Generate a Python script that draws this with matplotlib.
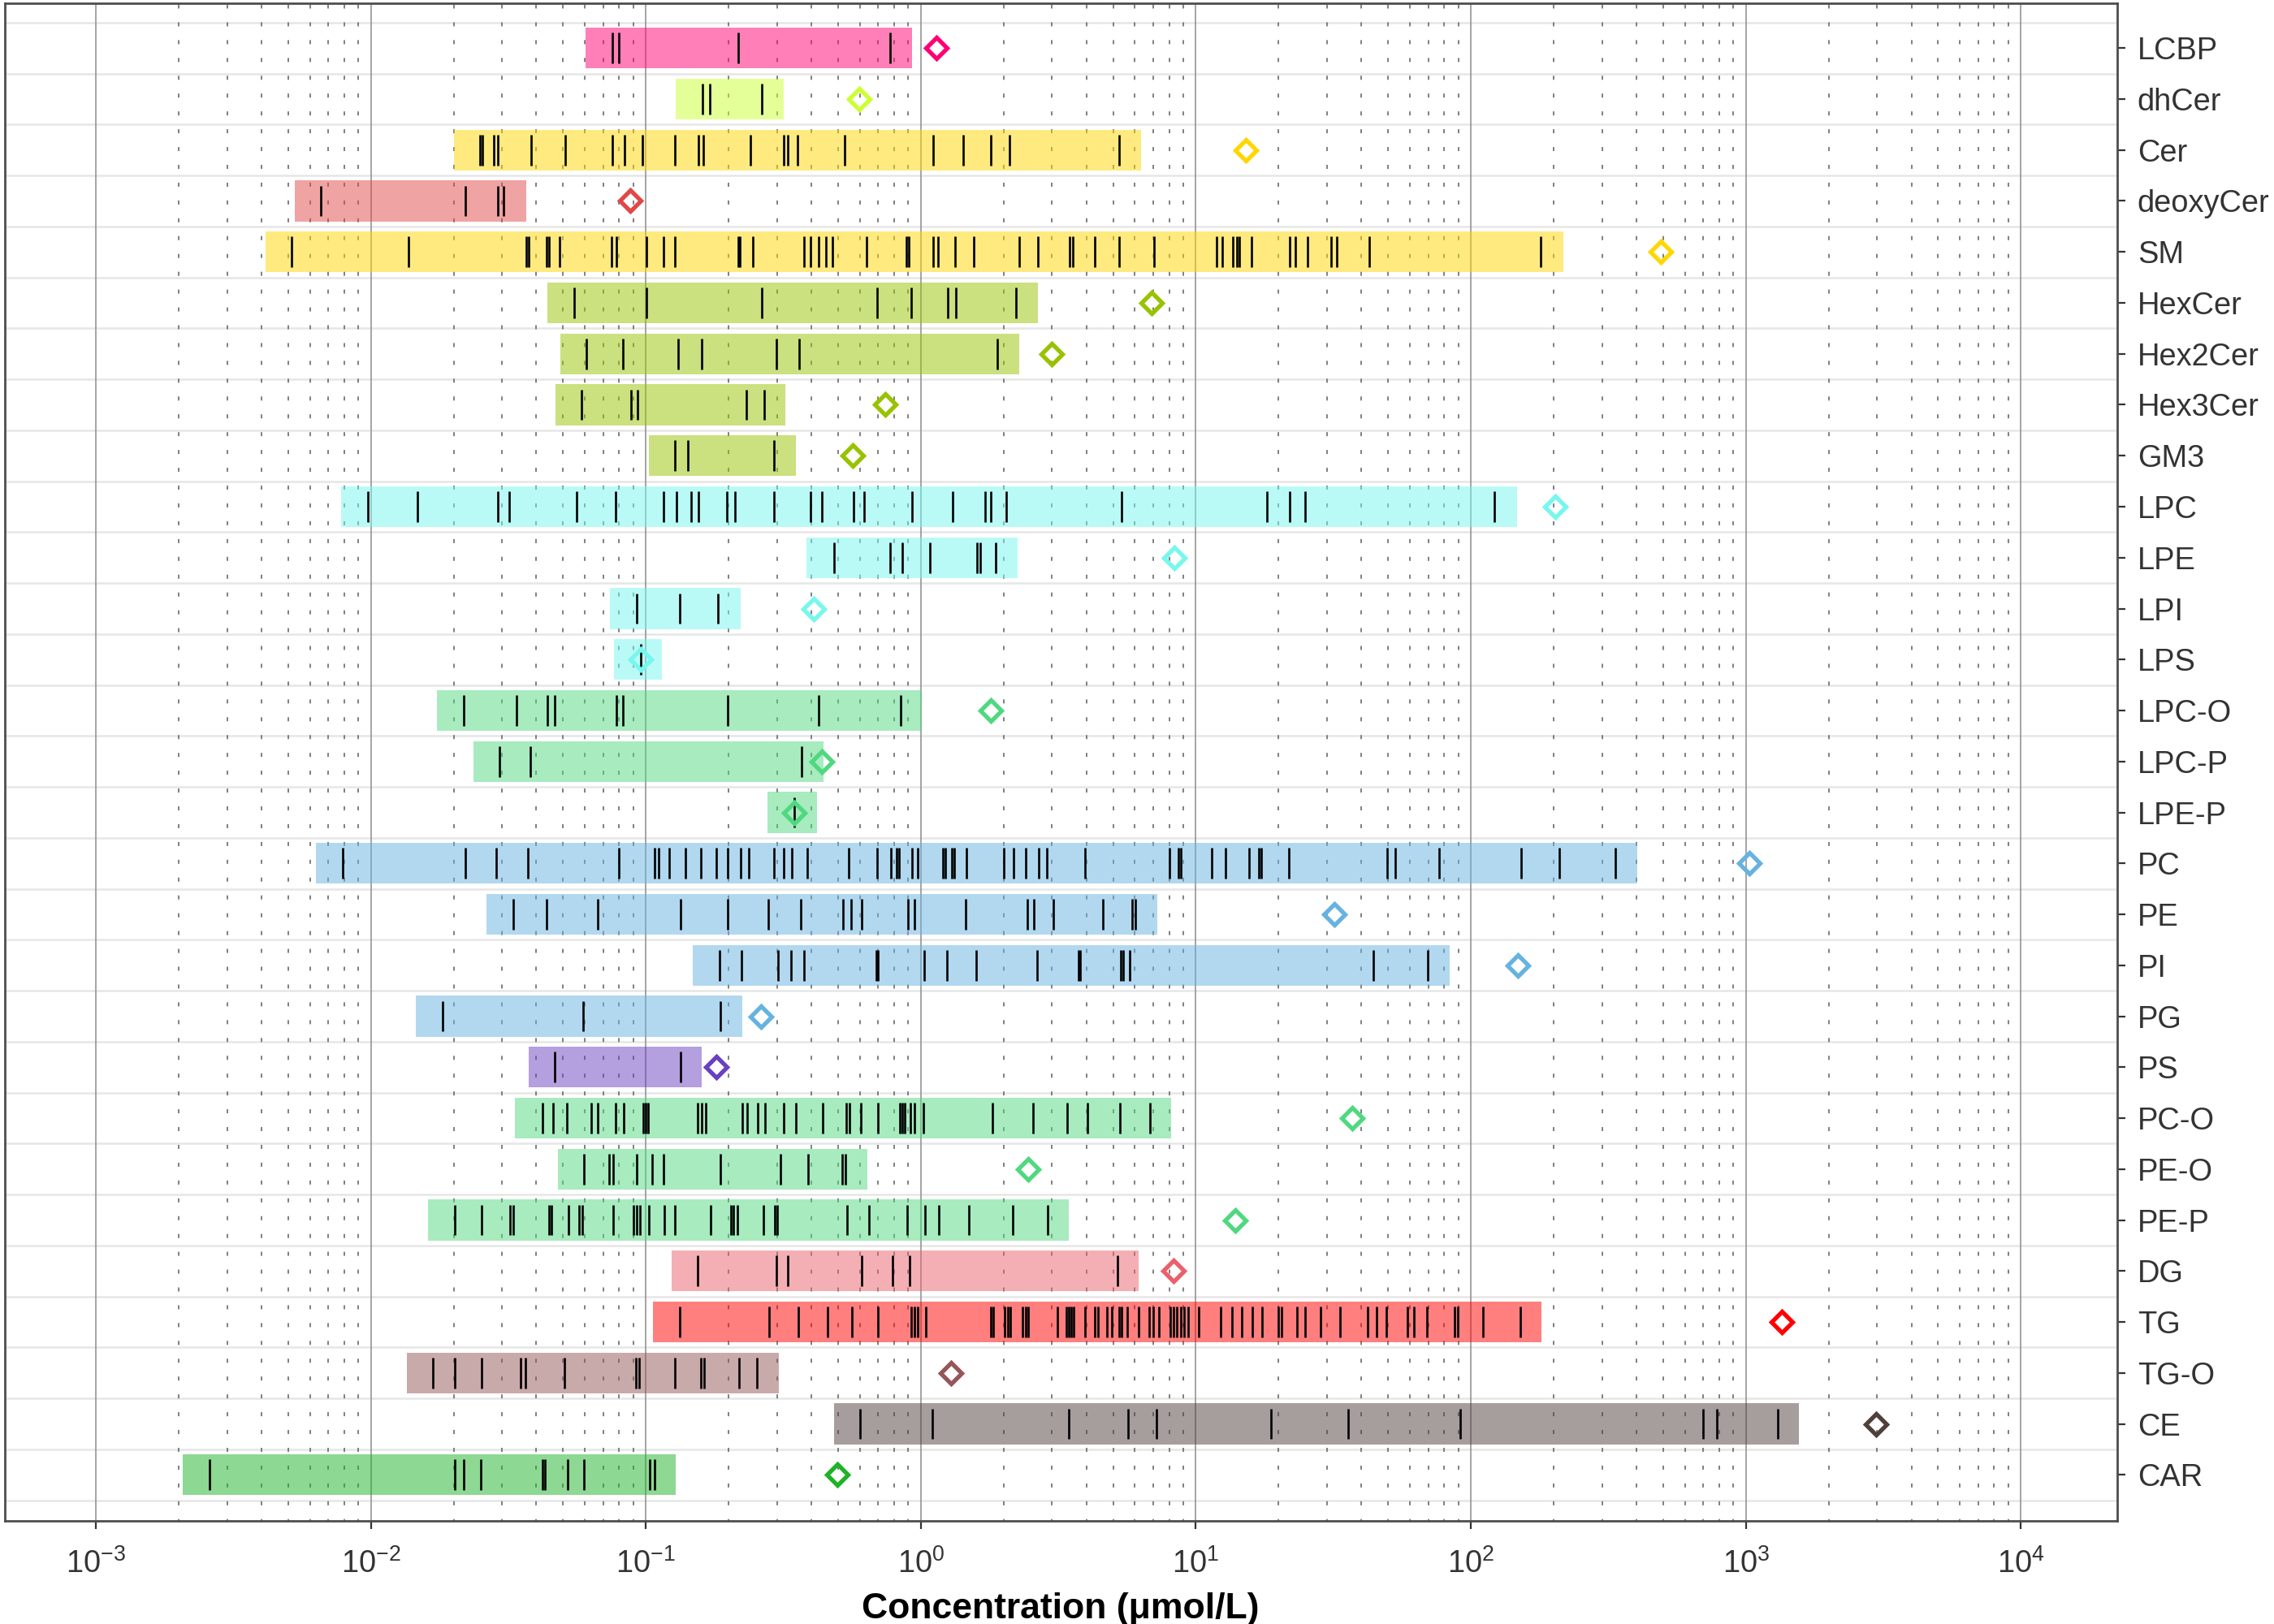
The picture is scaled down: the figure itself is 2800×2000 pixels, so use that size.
import numpy as np
import matplotlib
matplotlib.use("Agg")
import matplotlib.pyplot as plt

plt.rcParams['font.family'] = ['Liberation Sans', 'DejaVu Sans']
plt.rcParams['mathtext.fontset'] = 'custom'
plt.rcParams['mathtext.rm'] = 'Liberation Sans'
plt.rcParams['mathtext.it'] = 'Liberation Sans:italic'
plt.rcParams['mathtext.bf'] = 'Liberation Sans:bold'
plt.rcParams['lines.scale_dashes'] = False

# ---------------- data (all values are log10 of concentration, umol/L) ----------------
classes = ["LCBP", "dhCer", "Cer", "deoxyCer", "SM", "HexCer", "Hex2Cer", "Hex3Cer", "GM3",
           "LPC", "LPE", "LPI", "LPS", "LPC-O", "LPC-P", "LPE-P", "PC", "PE", "PI", "PG",
           "PS", "PC-O", "PE-O", "PE-P", "DG", "TG", "TG-O", "CE", "CAR"]

colors = ["#FF0073", "#CCFF33", "#FFD700", "#E04848", "#FFD700", "#99C200", "#99C200", "#99C200",
          "#99C200", "#77F7EE", "#77F7EE", "#77F7EE", "#77F7EE", "#50D880", "#50D880", "#50D880",
          "#66B3E0", "#66B3E0", "#66B3E0", "#66B3E0", "#6A40C0", "#50D880", "#50D880", "#50D880",
          "#EB616B", "#FF0000", "#955759", "#4F3F3D", "#1DB327"]

# range bar limits (log10 umol/L)
bar_lo = [-1.219, -0.892, -1.697, -2.277, -2.383, -1.359, -1.311, -1.328, -0.989,
          -2.109, -0.415, -1.132, -1.115, -1.760, -1.628, -0.557, -2.199, -1.579, -0.828, -1.835,
          -1.427, -1.475, -1.321, -1.793, -0.906, -0.974, -1.870, -0.315, -2.685]
bar_hi = [-0.032, -0.498, 0.800, -1.435, 2.335, 0.425, 0.357, -0.492, -0.455,
          2.168, 0.351, -0.655, -0.941, 0.003, -0.353, -0.379, 2.604, 0.859, 1.923, -0.650,
          -0.796, 0.909, -0.194, 0.537, 0.793, 2.256, -0.516, 3.193, -0.890]

# class totals (diamonds, log10 umol/L)
total = [0.058, -0.225, 1.183, -1.056, 2.690, 0.838, 0.475, -0.129, -0.249,
         2.308, 0.923, -0.389, -1.017, 0.255, -0.361, -0.460, 3.013, 1.505, 2.172, -0.580,
         -0.745, 1.570, 0.390, 1.144, 0.920, 3.131, 0.111, 3.473, -0.304]

# individual species (log10 umol/L)
sp_LCBP = [-1.123, -1.098, -0.663, -0.112]
sp_dhCer = [-0.794, -0.768, -0.578]
sp_Cer = [-1.604, -1.595, -1.553, -1.539, -1.417, -1.294, -1.123, -1.078, -1.013, -0.894, -0.809,
          -0.792, -0.621, -0.498, -0.485, -0.447, -0.276, 0.045, 0.155, 0.254, 0.321, 0.722]
sp_deoxyCer = [-2.181, -1.655, -1.539, -1.517]
sp_SM = [-2.288, -1.863, -1.435, -1.427, -1.362, -1.352, -1.315, -1.126, -1.106, -0.997, -0.935,
         -0.894, -0.665, -0.658, -0.612, -0.426, -0.400, -0.373, -0.346, -0.322, -0.197, -0.053,
         -0.044, 0.044, 0.061, 0.124, 0.193, 0.357, 0.425, 0.542, 0.554, 0.631, 0.721, 0.849,
         1.074, 1.095, 1.135, 1.149, 1.159, 1.203, 1.342, 1.362, 1.406, 1.492, 1.513, 1.632, 2.254]
sp_HexCer = [-1.260, -0.997, -0.578, -0.158, -0.034, 0.098, 0.126, 0.347]
sp_Hex2Cer = [-1.216, -1.084, -0.884, -0.797, -0.526, -0.443, 0.278]
sp_Hex3Cer = [-1.233, -1.053, -1.030, -0.634, -0.570]
sp_GM3 = [-0.894, -0.846, -0.533]
sp_LPC = [-2.012, -1.830, -1.537, -1.496, -1.252, -1.109, -0.935, -0.889, -0.836, -0.809, -0.704,
          -0.677, -0.534, -0.402, -0.360, -0.244, -0.207, -0.032, 0.115, 0.235, 0.255, 0.310,
          0.729, 1.259, 1.342, 1.398, 2.086]
sp_LPE = [-0.317, -0.113, -0.067, 0.034, 0.203, 0.215, 0.271]
sp_LPI = [-1.034, -0.876, -0.737]
sp_LPS = [-1.017]
sp_LPC_O = [-1.661, -1.471, -1.358, -1.331, -1.108, -1.082, -0.701, -0.373, -0.074]
sp_LPC_P = [-1.532, -1.420, -0.433]
sp_LPE_P = [-0.460]
sp_PC = [-2.102, -1.656, -1.544, -1.430, -1.098, -0.967, -0.954, -0.916, -0.855, -0.801, -0.743,
         -0.703, -0.655, -0.625, -0.533, -0.498, -0.468, -0.413, -0.263, -0.159, -0.109, -0.088,
         -0.080, -0.032, -0.011, 0.080, 0.088, 0.112, 0.122, 0.165, 0.301, 0.337, 0.382, 0.428,
         0.459, 0.596, 0.903, 0.937, 0.945, 1.059, 1.107, 1.194, 1.228, 1.238, 1.337, 1.695,
         1.725, 1.885, 2.182, 2.323, 2.525]
sp_PE = [-1.483, -1.361, -1.175, -0.873, -0.703, -0.556, -0.436, -0.283, -0.254, -0.216, -0.046,
         -0.024, 0.162, 0.388, 0.412, 0.481, 0.663, 0.768, 0.780]
sp_PI = [-0.732, -0.653, -0.520, -0.471, -0.424, -0.163, -0.155, 0.013, 0.094, 0.202, 0.424,
         0.572, 0.580, 0.727, 0.737, 0.760, 1.644, 1.844]
sp_PG = [-1.739, -1.227, -0.730]
sp_PS = [-1.332, -0.875]
sp_PC_O = [-1.377, -1.338, -1.287, -1.198, -1.174, -1.111, -1.079, -1.009, -1.002, -0.991, -0.812,
           -0.798, -0.781, -0.648, -0.631, -0.594, -0.566, -0.498, -0.454, -0.356, -0.272, -0.258,
           -0.218, -0.157, -0.077, -0.068, -0.059, -0.037, -0.023, 0.009, 0.261, 0.409, 0.532,
           0.607, 0.724, 0.832]
sp_PE_O = [-1.225, -1.134, -1.119, -1.034, -0.978, -0.935, -0.730, -0.509, -0.409, -0.285, -0.275]
sp_PE_P = [-1.696, -1.597, -1.494, -1.483, -1.352, -1.343, -1.282, -1.242, -1.230, -1.119, -1.045,
           -1.034, -1.022, -0.989, -0.932, -0.895, -0.765, -0.691, -0.682, -0.667, -0.573, -0.532,
           -0.523, -0.267, -0.190, -0.049, 0.015, 0.065, 0.176, 0.333, 0.460]
sp_DG = [-0.811, -0.525, -0.485, -0.215, -0.104, -0.040, 0.716]
sp_TG = [-0.877, -0.551, -0.445, -0.340, -0.251, -0.156, -0.036, -0.023, -0.010, 0.019, 0.253,
         0.262, 0.305, 0.315, 0.326, 0.371, 0.381, 0.390, 0.497, 0.528, 0.537, 0.547, 0.556,
         0.598, 0.633, 0.645, 0.678, 0.695, 0.720, 0.729, 0.750, 0.793, 0.830, 0.845, 0.867,
         0.907, 0.918, 0.931, 0.945, 0.958, 0.971, 1.009, 1.091, 1.133, 1.166, 1.205, 1.241,
         1.300, 1.311, 1.367, 1.397, 1.453, 1.525, 1.625, 1.656, 1.693, 1.768, 1.792, 1.839,
         1.941, 1.952, 2.044, 2.179]
sp_TG_O = [-1.773, -1.695, -1.596, -1.456, -1.437, -1.295, -1.036, -1.024, -0.894, -0.801,
           -0.789, -0.660, -0.596]
sp_CE = [-0.221, 0.041, 0.539, 0.755, 0.857, 1.274, 1.554, 1.960, 2.843, 2.896, 3.115]
sp_CAR = [-2.588, -1.695, -1.663, -1.600, -1.376, -1.368, -1.285, -1.225, -0.985, -0.969]

species = [sp_LCBP, sp_dhCer, sp_Cer, sp_deoxyCer, sp_SM, sp_HexCer, sp_Hex2Cer, sp_Hex3Cer,
           sp_GM3, sp_LPC, sp_LPE, sp_LPI, sp_LPS, sp_LPC_O, sp_LPC_P, sp_LPE_P, sp_PC, sp_PE,
           sp_PI, sp_PG, sp_PS, sp_PC_O, sp_PE_O, sp_PE_P, sp_DG, sp_TG, sp_TG_O, sp_CE, sp_CAR]

x_major = [-3, -2, -1, 0, 1, 2, 3, 4]

# ---------------- figure ----------------
fig = plt.figure(figsize=(14, 10), dpi=200)
ax = fig.add_axes([0.002, 0.0633, 0.929, 0.9347])
ax.set_xscale('log')
ax.set_xlim(10 ** -3.332, 10 ** 4.35)
n = len(classes)
ax.set_ylim(n - 1 + 0.91, -0.88)

# grid
for k in x_major:
    ax.axvline(10.0 ** k, color='#8C8C8C', lw=0.55, zorder=0.5)
for k in x_major[:-1]:
    for m in range(2, 10):
        ax.axvline(m * 10.0 ** k, color='#6A6A6A', lw=0.6,
                   linestyle=(1.0, (1.8, 6.1)), zorder=0.5)
for i in range(n + 1):
    ax.axhline(i - 0.5, color='#E6E6E6', lw=0.9, zorder=0.4)

# bars, species ticks, totals
y = np.arange(n)
lo = 10 ** np.array(bar_lo)
hi = 10 ** np.array(bar_hi)
ax.barh(y, hi - lo, left=lo, height=0.8, color=colors, alpha=0.5, lw=0, zorder=1)
for i, vals in enumerate(species):
    xv = 10 ** np.array(vals)
    ax.vlines(xv, i - 0.3, i + 0.3, color='black', lw=0.95, zorder=2)
for i in range(n):
    ax.plot(10 ** total[i], i, marker='D', markersize=6.8, mfc='none',
            mec=colors[i], mew=1.9, zorder=3, linestyle='none')

# axes styling
ax.yaxis.tick_right()
ax.set_yticks(y)
ax.set_yticklabels(classes)
ax.set_xticks([10.0 ** k for k in x_major])
ax.set_xticklabels([r'$10^{%d}$' % k for k in x_major])
ax.xaxis.set_minor_locator(matplotlib.ticker.NullLocator())
ax.tick_params(axis='both', which='major', labelsize=13.7, colors='#333333',
               length=3.5, width=0.8, pad=5.5)
ax.tick_params(axis='y', which='both', left=False, right=True, labelright=True,
               labelleft=False)
ax.tick_params(axis='x', pad=8.5)
for lab in ax.get_xticklabels() + ax.get_yticklabels():
    lab.set_color('#333333')
for s in ax.spines.values():
    s.set_color('#4D4D4D')
    s.set_linewidth(1.0)

ax.set_xlabel('Concentration (μmol/L)', fontsize=16, fontweight='bold', labelpad=6,
              color='black')

fig.savefig('out.png', dpi=200)
